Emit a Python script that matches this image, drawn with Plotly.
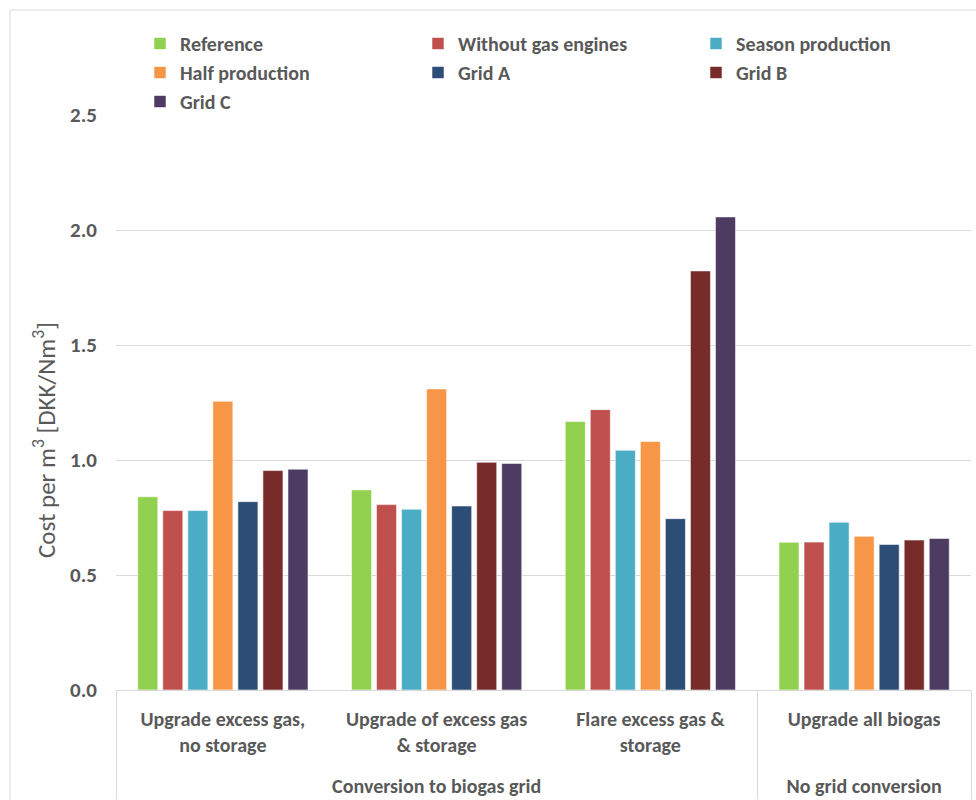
import plotly.graph_objects as go

# Scenario groups (outer level) and configurations (inner level)
groups = ["Conversion to biogas grid", "Conversion to biogas grid",
          "Conversion to biogas grid", "No grid conversion"]
configs = ["Upgrade excess gas,<br>no storage",
           "Upgrade of excess gas<br>& storage",
           "Flare excess gas &<br>storage",
           "Upgrade all biogas"]

series_names = ["Reference", "Without gas engines", "Season production",
                "Half production", "Grid A", "Grid B", "Grid C"]

reference = [0.84, 0.87, 1.167, 0.642]
without_gas_engines = [0.78, 0.806, 1.219, 0.643]
season_production = [0.78, 0.786, 1.042, 0.729]
half_production = [1.255, 1.309, 1.08, 0.668]
grid_a = [0.819, 0.80, 0.745, 0.633]
grid_b = [0.954, 0.99, 1.822, 0.652]
grid_c = [0.96, 0.985, 2.057, 0.659]

series_values = [reference, without_gas_engines, season_production,
                 half_production, grid_a, grid_b, grid_c]
colors = ["#92D050", "#C0504D", "#4BACC6", "#F79646",
          "#2C4D75", "#772C2A", "#4D3B62"]
# legend column of each series (entries fill the three columns row by row)
legend_ids = ["legend", "legend2", "legend3",
              "legend", "legend2", "legend3", "legend"]

W, H = 976, 800
L, R, T, B = 116, 5, 115, 110

FONT = "Carlito, Calibri, Lato, sans-serif"
GREY = "#595959"

# a trailing blank line under each configuration label leaves room
# between the two levels of the category axis
inner_labels = [c + "<br>\u00a0" for c in configs]

fig = go.Figure()
for name, vals, col, lg in zip(series_names, series_values, colors, legend_ids):
    fig.add_trace(go.Bar(
        name=name,
        x=[groups, inner_labels],
        y=vals,
        legend=lg,
        marker=dict(color=col, line=dict(color="rgba(255,255,255,0.55)", width=1)),
    ))

def px_x(p):
    return (p - L) / (W - L - R)

def px_y(p):
    return (H - B - p) / (H - T - B)

legend_style = dict(
    orientation="v", xanchor="left", yanchor="top", y=px_y(24),
    font=dict(family=FONT, size=20, color=GREY, weight="bold"),
    bgcolor="rgba(0,0,0,0)", itemclick=False, itemdoubleclick=False,
)

fig.update_layout(
    width=W, height=H,
    margin=dict(l=L, r=R, t=T, b=B),
    paper_bgcolor="white", plot_bgcolor="white",
    barmode="group", bargap=0.18, bargroupgap=0.2,
    font=dict(family=FONT, color=GREY, size=20),
    legend=dict(x=px_x(140), **legend_style),
    legend2=dict(x=px_x(418), **legend_style),
    legend3=dict(x=px_x(696), **legend_style),
    shapes=[dict(type="rect", xref="paper", yref="paper",
                 x0=px_x(10), x1=px_x(990), y0=px_y(820), y1=px_y(10),
                 line=dict(color="#D9D9D9", width=1), layer="below")],
    annotations=[dict(
        text="Cost per m<sup>3</sup> [DKK/Nm<sup>3</sup>]",
        textangle=-90, showarrow=False,
        xref="paper", yref="paper", x=px_x(44), y=px_y(440),
        xanchor="center", yanchor="middle",
        font=dict(family=FONT, size=25, color=GREY),
    )],
)

fig.update_yaxes(
    range=[0, 2.5], dtick=0.5, tickformat=".1f",
    showgrid=True, gridcolor="#D9D9D9", gridwidth=1,
    zeroline=False, showline=False, automargin=False,
    ticklabelstandoff=18,
    tickfont=dict(family=FONT, size=21, color=GREY, weight="bold"),
)
fig.update_xaxes(
    type="multicategory", automargin=False,
    showline=True, linecolor="#D9D9D9", linewidth=1,
    showdividers=True, dividercolor="#D9D9D9", dividerwidth=1,
    ticklabelstandoff=11,
    tickfont=dict(family=FONT, size=20, color=GREY, weight="bold"),
)

fig.write_html("out.html")
